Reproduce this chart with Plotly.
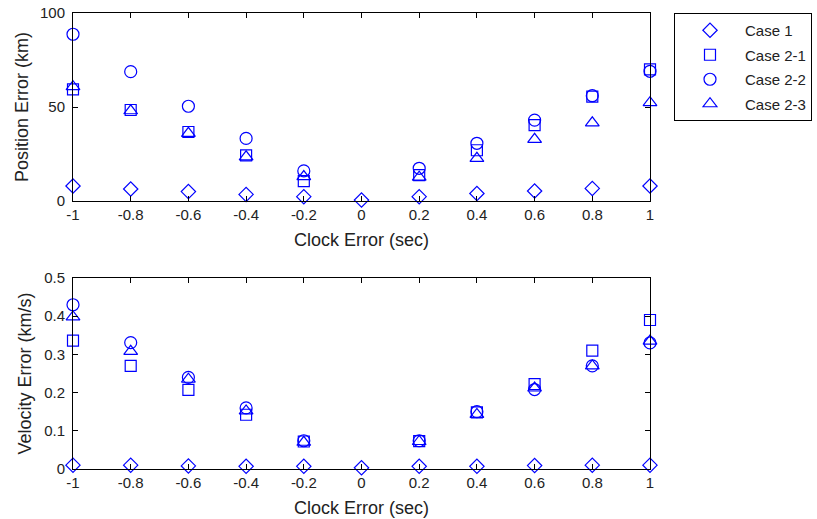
import plotly.graph_objects as go

clock = [-1, -0.8, -0.6, -0.4, -0.2, 0, 0.2, 0.4, 0.6, 0.8, 1]

pos_case1 = [8, 6.4, 5, 3.5, 2.3, 0.5, 2.3, 4, 5.3, 6.7, 8]
pos_case21 = [59.4, 48.4, 36.7, 24.3, 10.6, None, 13.8, 27, 40.4, 55.5, 70]
pos_case22 = [88.7, 68.8, 50.4, 33.3, 16, None, 17.4, 30.7, 43, 56, 69]
pos_case23 = [60.8, 48, 36, 23.5, 13, None, 12.7, 22.7, 32.8, 41.6, 52.3]

vel_case1 = [0.01, 0.01, 0.008, 0.007, 0.007, 0.003, 0.007, 0.007, 0.009, 0.01, 0.01]
vel_case21 = [0.336, 0.27, 0.207, 0.142, 0.072, None, 0.073, 0.148, 0.222, 0.31, 0.39]
vel_case22 = [0.43, 0.331, 0.24, 0.16, 0.074, None, 0.074, 0.15, 0.208, 0.27, 0.33]
vel_case23 = [0.398, 0.308, 0.235, 0.152, 0.07, None, 0.072, 0.143, 0.212, 0.27, 0.335]

names = ["Case 1", "Case 2-1", "Case 2-2", "Case 2-3"]
symbols = ["diamond-open", "square-open", "circle-open", "triangle-up-open"]
sizes = [11, 11, 12, 12]
blue = "#0000FF"
FONT = "Liberation Sans, Arial, sans-serif"

fig = go.Figure()
pos_all = [pos_case1, pos_case21, pos_case22, pos_case23]
vel_all = [vel_case1, vel_case21, vel_case22, vel_case23]
for i in range(4):
    fig.add_trace(go.Scatter(
        x=clock, y=pos_all[i], mode="markers", name=names[i],
        legendgroup=names[i],
        marker=dict(symbol=symbols[i], size=sizes[i], color=blue, line=dict(width=1.2, color=blue)),
        cliponaxis=False, xaxis="x", yaxis="y"))
for i in range(4):
    fig.add_trace(go.Scatter(
        x=clock, y=vel_all[i], mode="markers", name=names[i],
        legendgroup=names[i], showlegend=False,
        marker=dict(symbol=symbols[i], size=sizes[i], color=blue, line=dict(width=1.2, color=blue)),
        cliponaxis=False, xaxis="x2", yaxis="y2"))

xt = [-1, -0.8, -0.6, -0.4, -0.2, 0, 0.2, 0.4, 0.6, 0.8, 1]
xtxt = ["-1", "-0.8", "-0.6", "-0.4", "-0.2", "0", "0.2", "0.4", "0.6", "0.8", "1"]

axis_common = dict(showline=True, linecolor="black", linewidth=1, mirror="ticks",
                   ticks="inside", ticklen=5, tickcolor="black", showgrid=False,
                   zeroline=False, automargin=False, ticklabeloverflow="allow",
                   tickfont=dict(size=15, color="#222"))

W, H = 817, 519
ML, MT, MB = 73, 13, 50
MR = W - 650
H_PLOT = H - MT - MB
fig.update_layout(
    width=W, height=H,
    margin=dict(l=ML, r=MR, t=MT, b=MB, autoexpand=False),
    paper_bgcolor="white", plot_bgcolor="white",
    font=dict(family=FONT, size=15, color="#222"),
    xaxis=dict(domain=[0, 1], range=[-1, 1], tickvals=xt, ticktext=xtxt,
               anchor="y", title=dict(text="Clock Error (sec)", standoff=11), **axis_common),
    yaxis=dict(domain=[1 - 188 / H_PLOT, 1], range=[0, 100], tickvals=[0, 50, 100],
               anchor="x", ticklabelstandoff=4,
               title=dict(text="Position Error (km)", standoff=6), **axis_common),
    xaxis2=dict(domain=[0, 1], range=[-1, 1], tickvals=xt, ticktext=xtxt,
                anchor="y2", title=dict(text="Clock Error (sec)", standoff=11), **axis_common),
    yaxis2=dict(domain=[0, 1 - 265 / H_PLOT], range=[0, 0.5],
                tickvals=[0, 0.1, 0.2, 0.3, 0.4, 0.5], ticktext=["0", "0.1", "0.2", "0.3", "0.4", "0.5"],
                anchor="x2", ticklabelstandoff=4,
                title=dict(text="Velocity Error (km/s)", standoff=7), **axis_common),
    legend=dict(x=(674 - ML) / (W - ML - MR), y=1, xanchor="left", yanchor="top",
                bordercolor="black", borderwidth=1, bgcolor="white",
                font=dict(size=15, color="#222"), tracegroupgap=2, itemwidth=60),
)

fig.write_html("out.html", config={"displayModeBar": False},
               post_script="document.body.style.margin='0px';")
